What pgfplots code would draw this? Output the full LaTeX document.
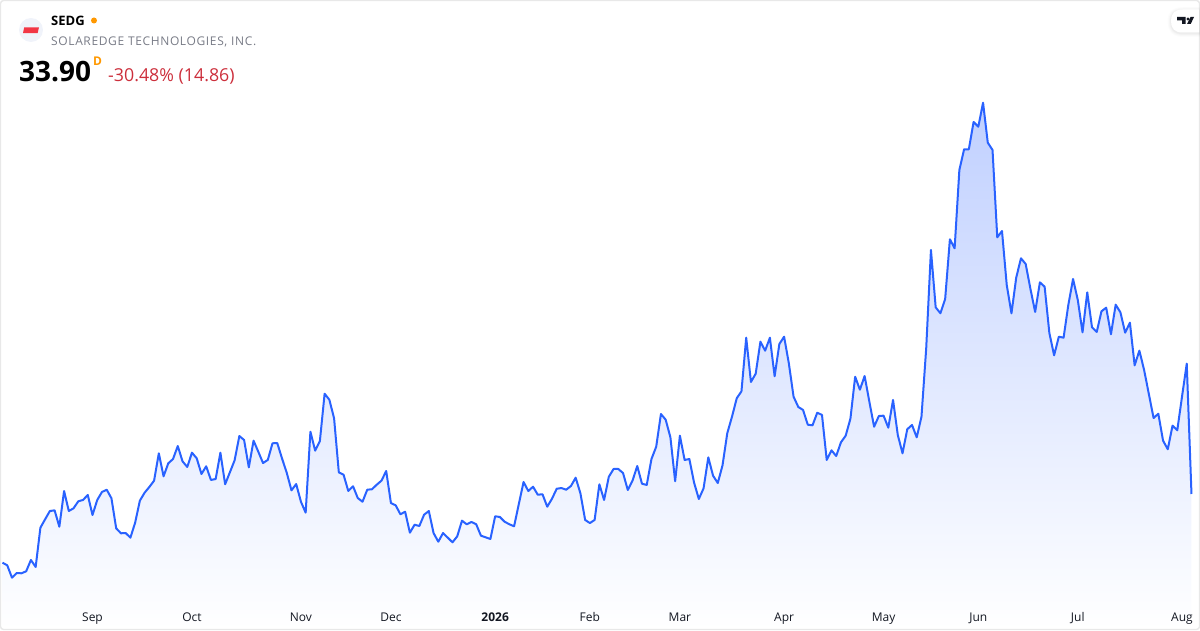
\documentclass[border=0pt]{standalone}
\usepackage{pgfplots}
\pgfplotsset{compat=1.18}
\usepackage{pgfplotstable}
\usepackage{fontspec}
\setmainfont{Open Sans}
\newfontfamily\spaced[LetterSpace=5.3]{Open Sans}
\definecolor{tvblue}{HTML}{2962FF}
\definecolor{toptint}{RGB}{192,208,255}
\definecolor{framegrey}{HTML}{E8E8E8}
\definecolor{tickink}{HTML}{131722}
\definecolor{subgrey}{HTML}{787B86}
\definecolor{downred}{HTML}{CC2F3C}
\definecolor{dotorange}{HTML}{FF9800}
\definecolor{logored}{HTML}{F23645}
\definecolor{logobg}{HTML}{F0F3FA}
\pgfplotstableread[row sep=\\]{
i p\\
0 26.07\\ 1 25.77\\ 2 24.36\\ 3 24.89\\ 4 24.86\\ 5 25.09\\ 6 26.38\\ 7 25.58\\ 8 30.06\\ 9 31.02\\
10 31.96\\ 11 32.04\\ 12 30.17\\ 13 34.24\\ 14 31.96\\ 15 32.27\\ 16 33.07\\ 17 33.22\\ 18 33.79\\ 19 31.51\\
20 33.22\\ 21 34.13\\ 22 34.39\\ 23 33.41\\ 24 29.99\\ 25 29.42\\ 26 29.45\\ 27 28.92\\ 28 30.63\\ 29 33.14\\
30 34.05\\ 31 34.70\\ 32 35.42\\ 33 38.54\\ 34 35.92\\ 35 37.40\\ 36 37.89\\ 37 39.37\\ 38 37.63\\ 39 36.98\\
40 38.61\\ 41 37.97\\ 42 36.18\\ 43 37.06\\ 44 35.50\\ 45 35.61\\ 46 38.61\\ 47 35.01\\ 48 36.37\\ 49 37.74\\
50 40.51\\ 51 40.06\\ 52 36.94\\ 53 39.98\\ 54 38.72\\ 55 37.43\\ 56 37.78\\ 57 39.68\\ 58 39.71\\ 59 37.97\\
60 36.33\\ 61 34.32\\ 62 35.04\\ 63 33.02\\ 64 31.77\\ 65 41.00\\ 66 38.84\\ 67 39.94\\ 68 45.33\\ 69 44.65\\
70 42.53\\ 71 36.37\\ 72 36.10\\ 73 34.24\\ 74 34.78\\ 75 33.44\\ 76 33.02\\ 77 34.39\\ 78 34.44\\ 79 34.96\\
80 35.42\\ 81 36.52\\ 82 32.87\\ 83 32.61\\ 84 31.59\\ 85 31.88\\ 86 29.49\\ 87 30.40\\ 88 30.25\\ 89 31.54\\
90 31.96\\ 91 29.45\\ 92 28.46\\ 93 29.45\\ 94 28.92\\ 95 28.39\\ 96 29.08\\ 97 30.86\\ 98 30.45\\ 99 30.71\\
100 30.45\\ 101 29.15\\ 102 28.96\\ 103 28.77\\ 104 31.36\\ 105 31.28\\ 106 30.74\\ 107 30.45\\ 108 30.22\\ 109 32.76\\
110 35.27\\ 111 34.24\\ 112 34.73\\ 113 33.82\\ 114 33.87\\ 115 32.45\\ 116 33.36\\ 117 34.50\\ 118 34.58\\ 119 34.39\\
120 34.81\\ 121 35.76\\ 122 33.98\\ 123 30.94\\ 124 30.59\\ 125 30.94\\ 126 35.01\\ 127 33.22\\ 128 35.87\\ 129 36.75\\
130 36.75\\ 131 36.29\\ 132 34.36\\ 133 35.42\\ 134 37.09\\ 135 35.07\\ 136 34.93\\ 137 37.89\\ 138 39.29\\ 139 43.02\\
140 42.37\\ 141 40.36\\ 142 35.35\\ 143 40.55\\ 144 37.78\\ 145 37.89\\ 146 35.19\\ 147 33.33\\ 148 34.55\\ 149 38.08\\
150 35.99\\ 151 35.15\\ 152 37.17\\ 153 40.82\\ 154 42.71\\ 155 44.81\\ 156 45.61\\ 157 51.72\\ 158 46.67\\ 159 47.61\\
160 51.26\\ 161 50.24\\ 162 51.72\\ 163 47.32\\ 164 51.00\\ 165 51.83\\ 166 48.80\\ 167 44.99\\ 168 43.82\\ 169 43.48\\
170 41.80\\ 171 41.73\\ 172 43.17\\ 173 42.91\\ 174 37.78\\ 175 38.88\\ 176 38.23\\ 177 39.79\\ 178 40.55\\ 179 42.48\\
180 47.27\\ 181 45.79\\ 182 47.35\\ 183 44.42\\ 184 41.57\\ 185 42.79\\ 186 42.83\\ 187 41.46\\ 188 44.62\\ 189 40.63\\
190 38.54\\ 191 41.28\\ 192 41.77\\ 193 40.36\\ 194 42.71\\ 195 50.51\\ 196 61.72\\ 197 55.18\\ 198 54.50\\ 199 56.13\\
200 62.94\\ 201 61.91\\ 202 70.84\\ 203 73.20\\ 204 73.20\\ 205 76.31\\ 206 75.77\\ 207 78.51\\ 208 73.95\\ 209 73.12\\
210 63.16\\ 211 63.88\\ 212 57.73\\ 213 54.50\\ 214 58.56\\ 215 60.77\\ 216 60.12\\ 217 57.29\\ 218 54.65\\ 219 58.03\\
220 57.53\\ 221 52.25\\ 222 49.71\\ 223 51.83\\ 224 51.72\\ 225 55.45\\ 226 58.41\\ 227 56.02\\ 228 52.33\\ 229 56.89\\
230 52.90\\ 231 52.37\\ 232 54.73\\ 233 55.14\\ 234 52.11\\ 235 55.48\\ 236 54.61\\ 237 52.29\\ 238 53.43\\ 239 48.57\\
240 50.24\\ 241 48.04\\ 242 45.30\\ 243 42.56\\ 244 43.05\\ 245 39.98\\ 246 39.00\\ 247 41.69\\ 248 41.16\\ 249 44.99\\
250 48.76\\ 251 33.90\\
}\prices
\begin{document}
\begin{tikzpicture}[x=1pt,y=1pt]
\begin{axis}[
  at={(0pt,0pt)},anchor=south west,
  scale only axis,width=1200pt,height=630pt,
  xmin=-0.528,xmax=252.797,ymin=18.396,ymax=90.216,
  clip=false,
  axis on top,
  axis line style={draw=none},
  ytick=\empty,
  xtick={19,40,63,82,104,124,143,165,186,206,227,249},
  xticklabels={Sep,Oct,Nov,Dec,\textbf{2026},Feb,Mar,Apr,May,Jun,Jul,Aug},
  xtick style={draw=none},
  major tick length=0pt,
  xticklabel style={anchor=center,yshift=11.8pt,text=tickink,font=\fontsize{12}{14}\selectfont,text height=8.5pt,text depth=2.5pt},
]
\addplot[draw=none,top color=toptint,bottom color=white] table[x=i,y=p]{\prices} \closedcycle;
\addplot[tvblue,line width=2pt,line join=round,no marks] table[x=i,y=p]{\prices};
\end{axis}
\begin{scope}[x=1pt,y=-1pt,yshift=630pt]
  \draw[framegrey,line width=1.4pt,rounded corners=3pt] (0.5,0.5) rectangle (1199.5,629.5);
  % logo
  \fill[logobg] (31,30) circle (12);
  \fill[logored] (24.2,27.3) -- (39,27.3) -- (37.6,33.2) -- (23,33.2) -- cycle;
  \node[anchor=base west,inner sep=0pt,text=black] at (51,25.6) {\fontsize{13}{15}\selectfont\bfseries SEDG};
  \fill[dotorange] (94,20.5) circle (3);
  \node[anchor=base west,inner sep=0pt,text=subgrey] at (51,45.5) {\fontsize{12}{14}\selectfont\spaced SOLAREDGE TECHNOLOGIES, INC.};
  \node[anchor=base west,inner sep=0pt,text=black] at (19,82) {\fontsize{28}{32}\selectfont\bfseries 33.90};
  \node[anchor=base west,inner sep=0pt,text=dotorange] at (93,66) {\fontsize{12}{14}\selectfont\bfseries D};
  \node[anchor=base west,inner sep=0pt,text=downred] at (108,81.5) {\fontsize{17.8}{22}\selectfont -30.48\% (14.86)};
  % corner badge: soft shadow then white pill
  \foreach \g/\o in {3.5/0.012,2.5/0.015,1.5/0.02,0.7/0.025}{
    \fill[black,opacity=\o] (1201,{9.5-\g+1}) -- (1183,{9.5-\g+1}) .. controls ({1174-\g},{9.5-\g+1}) and ({1171-\g},14) .. ({1171-\g},22) .. controls ({1171-\g},29) and ({1174-\g},{33.5+\g}) .. (1183,{33.5+\g}) -- (1201,{33.5+\g}) -- cycle;
  }
  \fill[white] (1199,9.5) -- (1183,9.5) .. controls (1174,9.5) and (1171,14) .. (1171,21) .. controls (1171,28) and (1174,32.5) .. (1183,32.5) -- (1199,32.5) -- cycle;
  \fill[tickink] (1177,17) -- (1185.6,17) -- (1185.6,24) -- (1182,24) -- (1182,20.5) -- (1177,20.5) -- cycle;
  \fill[tickink] (1188,19) circle (1.7);
  \fill[tickink] (1190.5,17) -- (1194,17) -- (1190.7,24) -- (1187,24) -- cycle;
\end{scope}
\pgfresetboundingbox
\useasboundingbox (0pt,0pt) rectangle (1200pt,630pt);
\end{tikzpicture}
\end{document}
